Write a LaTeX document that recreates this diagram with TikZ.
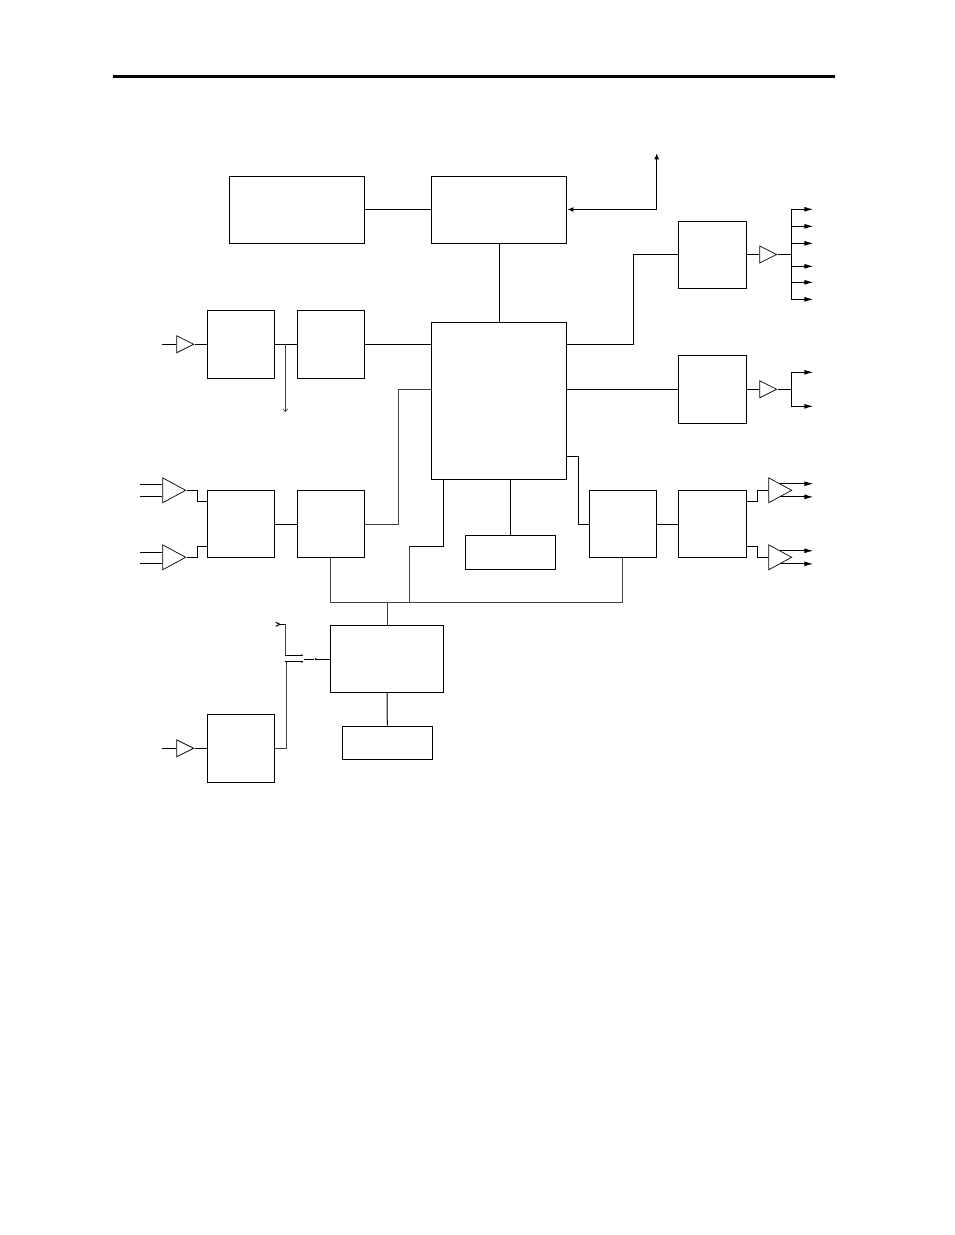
\documentclass[tikz,border=0pt]{standalone}
\usetikzlibrary{calc}
\usetikzlibrary{arrows.meta}
\usetikzlibrary{shapes.geometric}

\begin{document}
\begin{tikzpicture}[
		x=1pt,y=-1pt,
		line width=1pt,
		>=latex,
		block/.style={draw,rectangle,inner sep=0pt,minimum width=67.4pt,minimum height=67pt},
		tallblock/.style={block,minimum height=68pt},
		wideblock/.style={block,minimum width=135.4pt},
		flatblock/.style={block,minimum width=90pt,minimum height=33.6pt},
		amp/.style={draw,line width=.7pt,isosceles triangle,isosceles triangle stretches,inner sep=0pt,anchor=lower side,shape border rotate=0,minimum width=17pt,minimum height=17pt},
		bigamp/.style={amp,minimum width=25pt,minimum height=23pt},
		output/.style={-{Latex[length=9pt,width=5pt]}},
		link/.style={{Latex[length=6pt,width=5pt]}-{Latex[length=6pt,width=5pt]}},
		openarrow/.style={-{Straight Barb[length=3pt,width=5pt]}},
		tiny/.style={-{Latex[length=2pt,width=2.5pt]}},
		thin line/.style={line width=.7pt,black!75},
	]
	\useasboundingbox (-.3,-.3) rectangle (953.7,1234.7);
	\draw[line width=3pt] (113,76) -- (834.6,76);

	\node[wideblock] (memory) at (296.7,209.2) {};
	\node[wideblock] (control) at (498.9,209.2) {};
	\node[wideblock,minimum height=157pt] (core) at (498.9,400.7) {};
	\node[tallblock] (recva) at (240.7,344) {};
	\node[tallblock] (deca) at (330.6,344) {};
	\node[block] (recvb) at (240.7,523.7) {};
	\node[block] (decb) at (330.6,523.7) {};
	\node[block] (outa) at (712.2,254.2) {};
	\node[tallblock] (outb) at (712.2,389) {};
	\node[block] (outc) at (622.7,523.7) {};
	\node[block] (outd) at (712.2,523.7) {};
	\node[flatblock] (store) at (510.2,552.2) {};
	\node[block,minimum width=113pt] (timer) at (386.8,658.7) {};
	\node[flatblock] (clock) at (387,742.7) {};
	\node[tallblock] (recve) at (240.7,748) {};

	\node[amp] (ampa) at (176,344) {};
	\node[amp] (ampe) at (176,748) {};
	\node[amp] (ampf) at (759,254.2) {};
	\node[amp] (ampg) at (759,389) {};
	\node[bigamp] (ampb) at (162,490) {};
	\node[bigamp] (ampc) at (162,557) {};
	\node[bigamp] (ampd) at (768,490) {};
	\node[bigamp] (amph) at (768,557) {};

	\coordinate (uplink) at (656.4,153);
	\coordinate (inleft) at (140,0);
	\coordinate (inshort) at (162,0);
	\coordinate (outright) at (813,0);
	\coordinate (busf) at (791,254.2);
	\coordinate (busg) at (791,389);
	\coordinate (tap) at (285,412);
	\coordinate (bus) at (386.8,602);
	\coordinate (shared) at (409,602);
	\coordinate (tick) at (314,658.7);
	\coordinate (split) at (304,658.7);
	\coordinate (splita) at (303,655);
	\coordinate (splitb) at (303,661.5);
	\coordinate (back) at (275,624);

	\draw (memory) -- (control);
	\draw[link] (uplink) |- (control.east);
	\draw (control) -- (core);

	\draw (inshort |- ampa.lower side) -- (ampa.lower side);
	\draw (ampa.apex) -- (recva.west |- ampa.apex);
	\draw (recva) -- (deca);
	\draw[thin line,openarrow] (tap |- recva) -- (tap);
	\draw (deca.east) -- (core.west |- deca.east);

	\draw ($(core.east)+(0,-56.7)$) -| ($(outa.west)+(-45,0)$) -- (outa.west);
	\draw (outa) -- (ampf.lower side);
	\draw (ampf.apex) -- (busf);
	\draw (busf |- 0,209) -- (busf |- 0,299);
	\foreach \y in {209,226,243,266,282,299}
		\draw[output] (busf |- 0,\y) -- (outright |- 0,\y);

	\draw (core.east |- outb) -- (outb);
	\draw (outb) -- (ampg.lower side);
	\draw (ampg.apex) -- (busg);
	\draw (busg |- 0,372) -- (busg |- 0,406);
	\foreach \y in {372,406}
		\draw[output] (busg |- 0,\y) -- (outright |- 0,\y);

	\draw (inleft |- 0,484) -- (ampb.lower side |- 0,484);
	\draw (inleft |- 0,496) -- (ampb.lower side |- 0,496);
	\draw (inleft |- 0,552) -- (ampc.lower side |- 0,552);
	\draw (inleft |- 0,563) -- (ampc.lower side |- 0,563);
	\draw (ampb.apex) -- ++(11,0) |- (recvb.west |- 0,501);
	\draw (ampc.apex) -- ++(11,0) |- (recvb.west |- 0,546);
	\draw (recvb) -- (decb);
	\draw[thin line] (decb.east) -- ++(33,0) |- (core.west |- outb);

	\draw (core.south -| store) -- (store);
	\draw (core.east |- 0,456) -- ++(11,0) |- (outc.west);
	\draw (outc) -- (outd);
	\draw (outd.east |- 0,501) -- ++(11,0) |- (ampd.lower side);
	\draw (outd.east |- 0,546) -- ++(11,0) |- (amph.lower side);
	\draw[output] (ampd.left side) -- (outright |- ampd.left side);
	\draw[output] (ampd.right side) -- (outright |- ampd.right side);
	\draw[output] (amph.left side) -- (outright |- amph.left side);
	\draw[output] (amph.right side) -- (outright |- amph.right side);

	\draw[thin line] ($(decb.south)+(-.4,0)$) |- (bus) -| ($(outc.south)+(-.4,0)$);
	\draw[thin line] (bus) -- (timer.north);
	\draw (443,479) -- (443,546) -- (shared |- 0,546);
	\draw[thin line] (shared |- 0,546) -- (shared);
	\draw (timer) -- (clock);

	\draw (inshort |- ampe.lower side) -- (ampe.lower side);
	\draw (ampe.apex) -- (recve.west |- ampe.apex);
	\draw[thin line] (recve.east) -- ++(11,0) |- (splitb);
	\draw[tiny] (splitb -| tap) -- (splitb);
	\draw[thin line] (splita -| tap) |- (back -| tap);
	\draw[{Straight Barb[reversed,length=4pt,width=4pt]}-] (back) -- (back -| tap);
	\draw[tiny] (splita -| tap) -- (splita);
	\draw[tiny] (timer.west) -- (tick);
	\draw (tick) -- (split);
\end{tikzpicture}
\end{document}
